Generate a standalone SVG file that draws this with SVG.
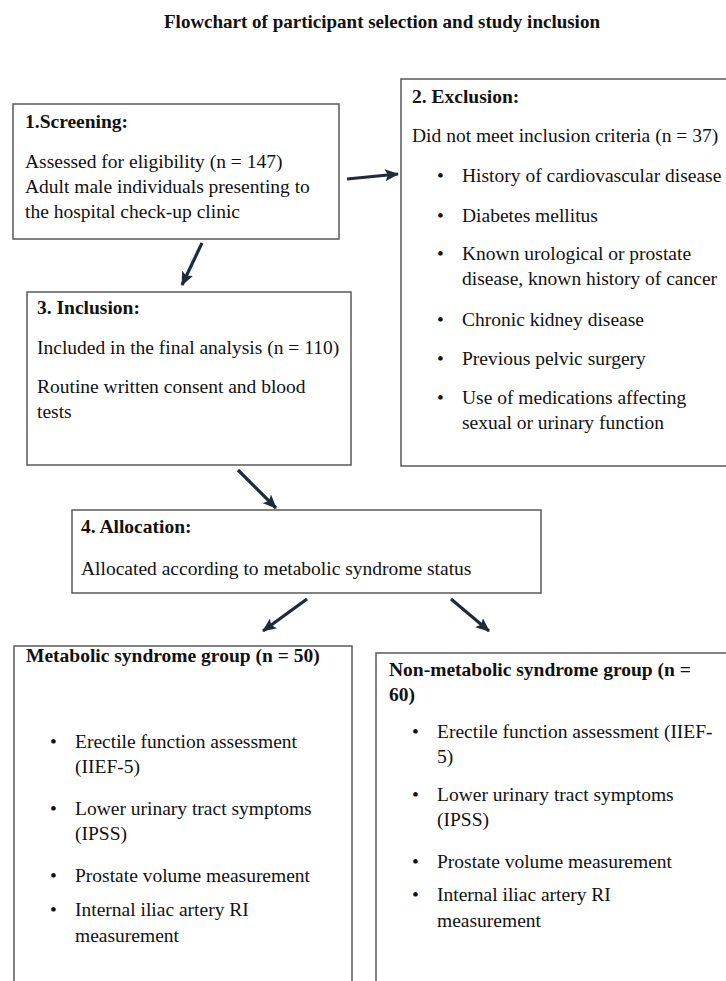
<svg xmlns="http://www.w3.org/2000/svg" width="726" height="981" viewBox="0 0 726 981">
<style>
.box{fill:#fff;stroke:#5a5a5a;stroke-width:1.5}
text{font-family:"Liberation Serif","Times New Roman",serif;font-size:19.5px;fill:#111}
.h{font-weight:bold}
.title{font-weight:bold;font-size:19px}
.arr{stroke:#1f2a3a;stroke-width:3.2;fill:none;marker-end:url(#ah)}
</style>
<defs>
<marker id="ah" markerUnits="userSpaceOnUse" markerWidth="14" markerHeight="12" refX="13" refY="6" orient="auto">
<path d="M0,0 L14,6 L0,12 L3,6 z" fill="#1f2a3a"/>
</marker>
</defs>
<rect width="726" height="981" fill="#fff"/>
<text class="title" x="382" y="28" text-anchor="middle">Flowchart of participant selection and study inclusion</text>

<g id="screening">
<rect class="box" x="13" y="104" width="326" height="135"/>
<text class="h" x="25" y="128">1.Screening:</text>
<text x="25" y="168">Assessed for eligibility (n = 147)</text>
<text x="25" y="193">Adult male individuals presenting to</text>
<text x="25" y="218">the hospital check-up clinic</text>
</g>

<g id="exclusion">
<rect class="box" x="401" y="79" width="340" height="387"/>
<text class="h" x="412" y="103">2. Exclusion:</text>
<text x="412" y="142">Did not meet inclusion criteria (n = 37)</text>
<text x="437" y="182">•</text><text x="462" y="182">History of cardiovascular disease</text>
<text x="437" y="222">•</text><text x="462" y="222">Diabetes mellitus</text>
<text x="437" y="260">•</text><text x="462" y="260">Known urological or prostate</text>
<text x="462" y="285">disease, known history of cancer</text>
<text x="437" y="326">•</text><text x="462" y="326">Chronic kidney disease</text>
<text x="437" y="365">•</text><text x="462" y="365">Previous pelvic surgery</text>
<text x="437" y="404">•</text><text x="462" y="404">Use of medications affecting</text>
<text x="462" y="429">sexual or urinary function</text>
</g>

<g id="inclusion">
<rect class="box" x="27" y="292" width="324" height="173"/>
<text class="h" x="37" y="314">3. Inclusion:</text>
<text x="37" y="354">Included in the final analysis (n = 110)</text>
<text x="37" y="393">Routine written consent and blood</text>
<text x="37" y="418">tests</text>
</g>

<g id="allocation">
<rect class="box" x="72" y="510" width="469" height="83"/>
<text class="h" x="81" y="533">4. Allocation:</text>
<text x="81" y="575">Allocated according to metabolic syndrome status</text>
</g>

<g id="metabolic">
<rect class="box" x="14" y="646" width="338" height="345"/>
<text class="h" x="26" y="662">Metabolic syndrome group (n = 50)</text>
<text x="50" y="748">•</text><text x="75" y="748">Erectile function assessment</text>
<text x="75" y="773">(IIEF-5)</text>
<text x="50" y="815">•</text><text x="75" y="815">Lower urinary tract symptoms</text>
<text x="75" y="840">(IPSS)</text>
<text x="50" y="882">•</text><text x="75" y="882">Prostate volume measurement</text>
<text x="50" y="916">•</text><text x="75" y="916">Internal iliac artery RI</text>
<text x="75" y="942">measurement</text>
</g>

<g id="nonmetabolic">
<rect class="box" x="376" y="653" width="360" height="338"/>
<text class="h" x="389" y="676">Non-metabolic syndrome group (n =</text>
<text class="h" x="389" y="701">60)</text>
<text x="412" y="738">•</text><text x="437" y="738">Erectile function assessment (IIEF-</text>
<text x="437" y="763">5)</text>
<text x="412" y="801">•</text><text x="437" y="801">Lower urinary tract symptoms</text>
<text x="437" y="826">(IPSS)</text>
<text x="412" y="868">•</text><text x="437" y="868">Prostate volume measurement</text>
<text x="412" y="901">•</text><text x="437" y="901">Internal iliac artery RI</text>
<text x="437" y="927">measurement</text>
</g>

<g id="connectors">
<line class="arr" x1="347" y1="179" x2="398" y2="174"/>
<line class="arr" x1="202" y1="243" x2="182" y2="285"/>
<line class="arr" x1="238" y1="470" x2="276" y2="508"/>
<line class="arr" x1="307" y1="599" x2="263" y2="631"/>
<line class="arr" x1="451" y1="599" x2="489" y2="631"/>
</g>
</svg>
